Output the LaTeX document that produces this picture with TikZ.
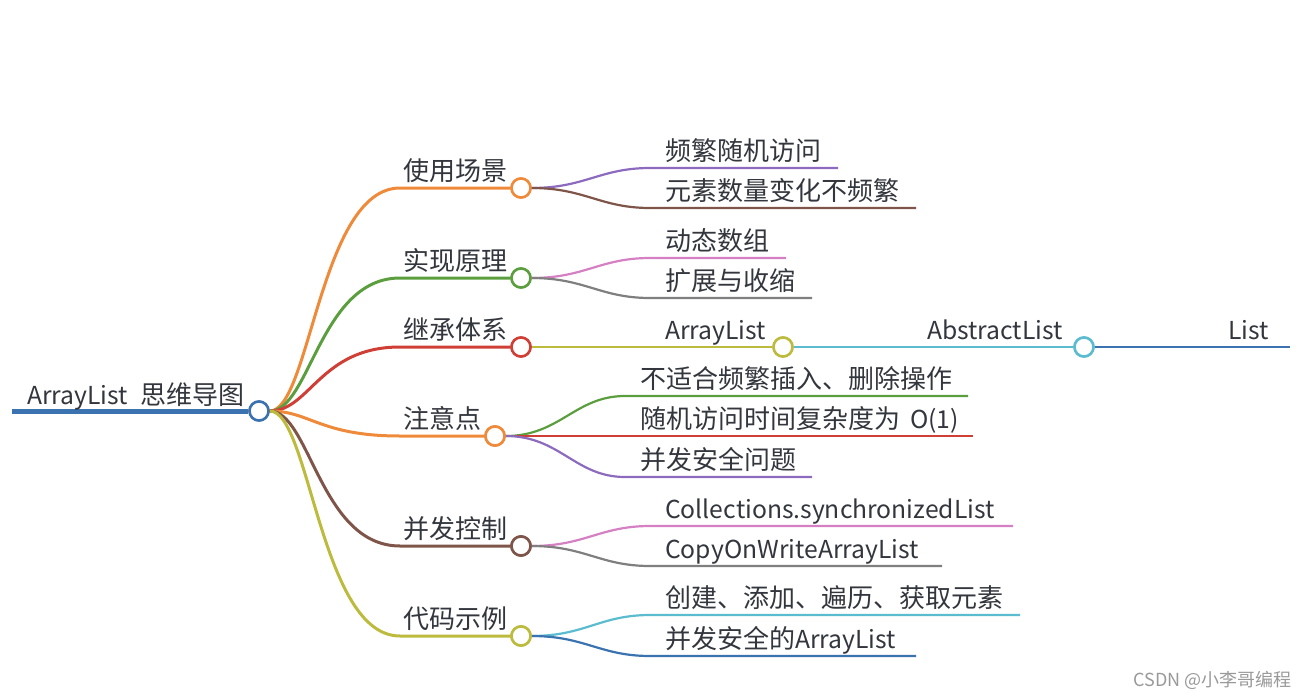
\documentclass[tikz,border=0pt]{standalone}
\usepackage{fontspec}
\setmainfont{Noto Sans CJK SC}
\definecolor{cOrange}{HTML}{EF8A3A}
\definecolor{cGreen}{HTML}{5A9E3E}
\definecolor{cRed}{HTML}{CF3F35}
\definecolor{cBrown}{HTML}{7E5548}
\definecolor{cOlive}{HTML}{BDBB3E}
\definecolor{cPurple}{HTML}{8C6BBE}
\definecolor{cPink}{HTML}{D680C4}
\definecolor{cGray}{HTML}{7F7F7F}
\definecolor{cCyan}{HTML}{5BBCD0}
\definecolor{cBlue}{HTML}{3A73B0}
\definecolor{cText}{HTML}{33363D}
\newcommand\lat[1]{{\fontsize{24.7}{28}\selectfont #1}}
\begin{document}
\begin{tikzpicture}[x=1pt,y=-1pt,
  font=\fontsize{26}{30}\selectfont,
  knob/.style={circle, draw=#1, fill=white, line width=2.5pt, minimum size=19pt, inner sep=0pt},
  lbl/.style={anchor=base west, inner sep=0pt, text=cText},
  lone/.style={line width=3pt, #1},
  ltwo/.style={line width=2.2pt, #1},
]
\useasboundingbox (0,0) rectangle (1308,698);

% root
\coordinate (r0) at (12,411);
\node[knob=cBlue] (root) at (259,411) {};
\draw[line width=5pt, cBlue] (r0) -- (root.west);
\node[lbl] (troot) at (27,404) {\lat{ArrayList}\hspace{12pt}思维导图};

% level-1 knobs
\node[knob=cOrange] (c1) at (521,188) {};
\node[knob=cGreen]  (c2) at (521,278) {};
\node[knob=cRed]    (c3) at (521,347) {};
\node[knob=cOrange] (c4) at (495,436) {};
\node[knob=cBrown]  (c5) at (521,546) {};
\node[knob=cOlive]  (c6) at (521,636) {};

% elbows
\coordinate (e1) at (400,188);
\coordinate (e2) at (400,278);
\coordinate (e3) at (400,347);
\coordinate (e4) at (400,436);
\coordinate (e5) at (400,546);
\coordinate (e6) at (400,636);

\draw[lone=cOrange] (root.east) .. controls (310,411) and (320,188) .. (e1) -- (c1.west);
\draw[lone=cGreen]  (root.east) .. controls (310,411) and (320,278) .. (e2) -- (c2.west);
\draw[lone=cRed]    (root.east) .. controls (310,411) and (320,347) .. (e3) -- (c3.west);
\draw[lone=cOrange] (root.east) .. controls (310,411) and (320,436) .. (e4) -- (c4.west);
\draw[lone=cBrown]  (root.east) .. controls (310,411) and (320,546) .. (e5) -- (c5.west);
\draw[lone=cOlive]  (root.east) .. controls (310,411) and (320,636) .. (e6) -- (c6.west);
\node[knob=cBlue] at (root) {};
\node[knob=cOrange] at (c1) {};
\node[knob=cGreen]  at (c2) {};
\node[knob=cRed]    at (c3) {};
\node[knob=cOrange] at (c4) {};
\node[knob=cBrown]  at (c5) {};
\node[knob=cOlive]  at (c6) {};

\node[lbl] (t1) at (403,180) {使用场景};
\node[lbl] (t2) at (403,270) {实现原理};
\node[lbl] (t3) at (403,339) {继承体系};
\node[lbl] (t4) at (403,428) {注意点};
\node[lbl] (t5) at (403,538) {并发控制};
\node[lbl] (t6) at (403,628) {代码示例};

% level-2 : 使用场景
\coordinate (a1) at (650,168); \coordinate (a1e) at (838,168);
\coordinate (a2) at (650,208); \coordinate (a2e) at (916,208);
\draw[ltwo=cPurple] (c1.east) .. controls (585,188) and (600,168) .. (a1) -- (a1e);
\draw[ltwo=cBrown]  (c1.east) .. controls (585,188) and (600,208) .. (a2) -- (a2e);
\node[lbl] (ta1) at (665,160) {频繁随机访问};
\node[lbl] (ta2) at (665,200) {元素数量变化不频繁};

% 实现原理
\coordinate (b1) at (650,258); \coordinate (b1e) at (786,258);
\coordinate (b2) at (650,298); \coordinate (b2e) at (812,298);
\draw[ltwo=cPink] (c2.east) .. controls (585,278) and (600,258) .. (b1) -- (b1e);
\draw[ltwo=cGray] (c2.east) .. controls (585,278) and (600,298) .. (b2) -- (b2e);
\node[lbl] (tb1) at (665,250) {动态数组};
\node[lbl] (tb2) at (665,290) {扩展与收缩};

% 继承体系
\node[knob=cOlive] (k1) at (783,347) {};
\node[knob=cCyan]  (k2) at (1084,347) {};
\coordinate (k3) at (1290,347);
\draw[ltwo=cOlive] (c3.east) -- (k1.west);
\draw[ltwo=cCyan]  (k1.east) -- (k2.west);
\draw[ltwo=cBlue]  (k2.east) -- (k3);
\node[knob=cOlive] at (k1) {};
\node[knob=cCyan]  at (k2) {};
\node[lbl] (tk1) at (665,339) {\lat{ArrayList}};
\node[lbl] (tk2) at (927,339) {\lat{AbstractList}};
\node[lbl] (tk3) at (1228,339) {\lat{List}};

% 注意点
\coordinate (d1) at (625,396); \coordinate (d1e) at (968,396);
\coordinate (d2) at (625,436); \coordinate (d2e) at (973,436);
\coordinate (d3) at (625,477); \coordinate (d3e) at (812,477);
\draw[ltwo=cGreen]  (c4.east) .. controls (560,436) and (575,396) .. (d1) -- (d1e);
\draw[ltwo=cRed]    (c4.east) -- (d2) -- (d2e);
\draw[ltwo=cPurple] (c4.east) .. controls (560,436) and (575,477) .. (d3) -- (d3e);
\node[knob=cOrange] at (c4) {};
\node[lbl] (td1) at (640,388) {不适合频繁插入、删除操作};
\node[lbl] (td2) at (640,428) {随机访问时间复杂度为\hspace{10pt}\lat{O(1)}};
\node[lbl] (td3) at (640,469) {并发安全问题};

% 并发控制
\coordinate (f1) at (650,526); \coordinate (f1e) at (1013,526);
\coordinate (f2) at (650,566); \coordinate (f2e) at (942,566);
\draw[ltwo=cPink] (c5.east) .. controls (585,546) and (600,526) .. (f1) -- (f1e);
\draw[ltwo=cGray] (c5.east) .. controls (585,546) and (600,566) .. (f2) -- (f2e);
\node[knob=cBrown] at (c5) {};
\node[lbl] (tf1) at (665,518) {\lat{Collections.synchronizedList}};
\node[lbl] (tf2) at (665,558) {\lat{CopyOnWriteArrayList}};

% 代码示例
\coordinate (g1) at (650,615); \coordinate (g1e) at (1020,615);
\coordinate (g2) at (650,656); \coordinate (g2e) at (916,656);
\draw[ltwo=cCyan] (c6.east) .. controls (585,636) and (600,615) .. (g1) -- (g1e);
\draw[ltwo=cBlue] (c6.east) .. controls (585,636) and (600,656) .. (g2) -- (g2e);
\node[knob=cOlive] at (c6) {};
\node[lbl] (tg1) at (665,607) {创建、添加、遍历、获取元素};
\node[lbl] (tg2) at (665,648) {并发安全的\lat{ArrayList}};

\node[anchor=base east, inner sep=0pt, text=black!40, font=\fontsize{18}{20}\selectfont] (wm) at (1292,686) {CSDN @小李哥编程};
\end{tikzpicture}
\end{document}
